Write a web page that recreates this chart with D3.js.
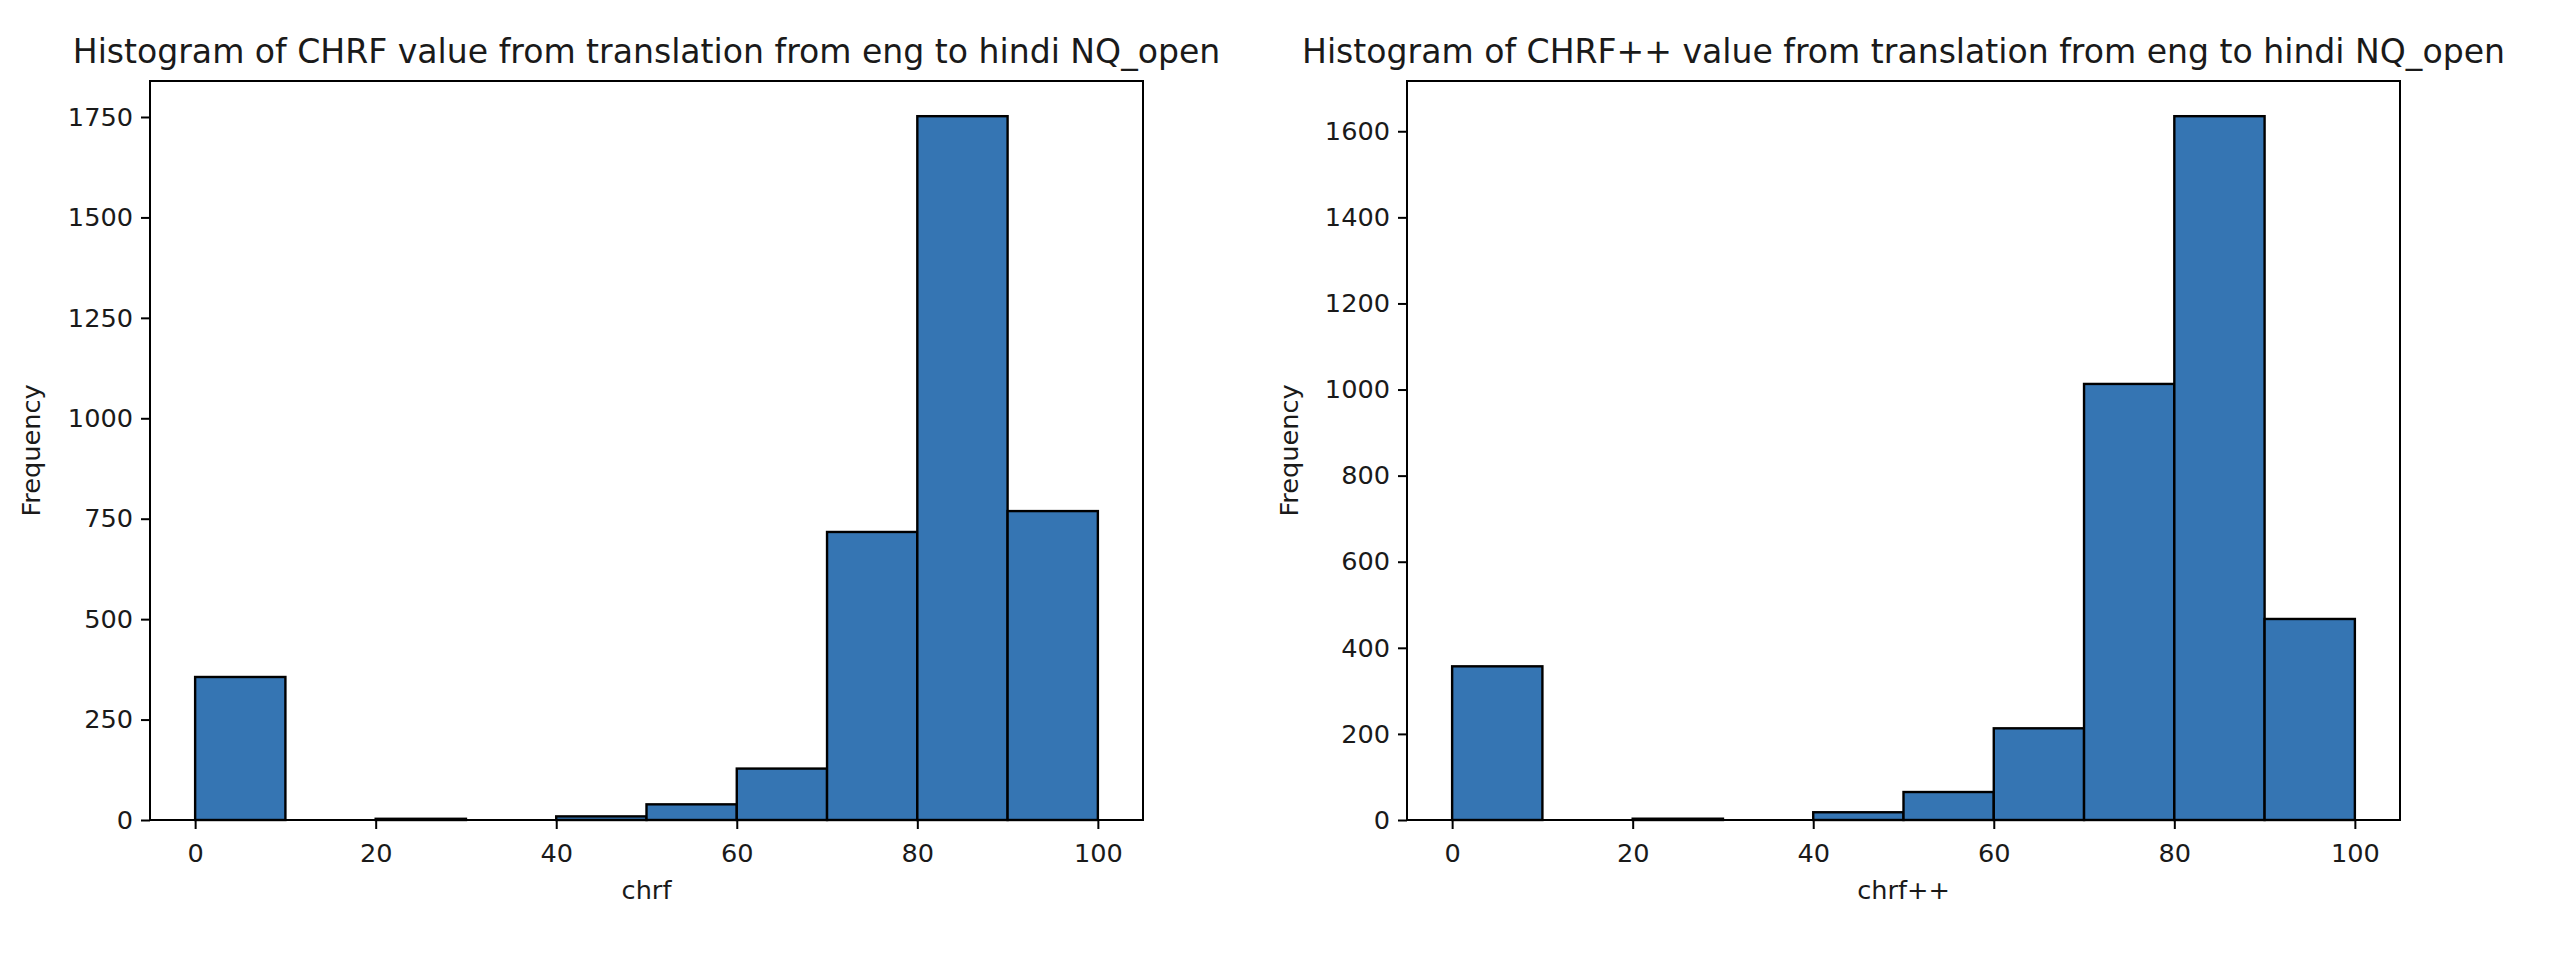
<!DOCTYPE html>
<html>
<head>
<meta charset="utf-8">
<script src="https://cdn.jsdelivr.net/npm/d3@7"></script>
<style>
  html, body { margin: 0; padding: 0; background: #fff; }
  svg { display: block; }
  text { font-family: "DejaVu Sans", sans-serif; fill: #1a1a1a; }
</style>
</head>
<body>
<svg id="chart" width="2552" height="954"></svg>
<script>
// ---- data ----
const binEdges = [0, 10, 20, 30, 40, 50, 60, 70, 80, 90, 100];
const chrfCounts = [356, 0, 3, 0, 9, 39, 128, 717, 1752, 769];
const chrfppCounts = [357, 0, 3, 0, 18, 65, 213, 1013, 1635, 467];
const xTicks = [0, 20, 40, 60, 80, 100];
const chrfYTicks = [0, 250, 500, 750, 1000, 1250, 1500, 1750];
const chrfppYTicks = [0, 200, 400, 600, 800, 1000, 1200, 1400, 1600];
const titles = [
  "Histogram of CHRF value from translation from eng to hindi NQ_open",
  "Histogram of CHRF++ value from translation from eng to hindi NQ_open"
];
const xLabels = ["chrf", "chrf++"];
const yLabel = "Frequency";

// ---- layout ----
const svg = d3.select("#chart");
const panels = [
  { left: 150, right: 1143, counts: chrfCounts, yTicks: chrfYTicks, title: titles[0], xlabel: xLabels[0], ylabelX: 40 },
  { left: 1407, right: 2400, counts: chrfppCounts, yTicks: chrfppYTicks, title: titles[1], xlabel: xLabels[1], ylabelX: 1298 }
];
const plotTop = 81, plotBottom = 820;
const barColor = "#3575b3";
const fontTick = 25.6, fontTitle = 33.1;

panels.forEach(p => {
  const g = svg.append("g");
  const x = d3.scaleLinear().domain([-5, 105]).range([p.left, p.right]);
  const ymax = d3.max(p.counts) * 1.05;
  const y = d3.scaleLinear().domain([0, ymax]).range([plotBottom, plotTop]);

  const bins = p.counts.map((c, i) => ({ x0: binEdges[i], x1: binEdges[i + 1], c }));

  g.selectAll("rect.bar").data(bins.filter(d => d.c > 0)).join("rect")
    .attr("class", "bar")
    .attr("x", d => x(d.x0))
    .attr("width", d => x(d.x1) - x(d.x0))
    .attr("y", d => y(d.c))
    .attr("height", d => y(0) - y(d.c))
    .attr("fill", barColor)
    .attr("stroke", "#000")
    .attr("stroke-width", 2.4);

  // axes
  const xAxis = d3.axisBottom(x).tickValues(xTicks).tickSize(9).tickPadding(14.5).tickFormat(d3.format("d"));
  const yAxis = d3.axisLeft(y).tickValues(p.yTicks).tickSize(9).tickPadding(8).tickFormat(d3.format("d"));

  const gx = g.append("g").attr("transform", `translate(0,${plotBottom})`).call(xAxis);
  const gy = g.append("g").attr("transform", `translate(${p.left},0)`).call(yAxis);
  [gx, gy].forEach(ax => {
    ax.select(".domain").remove();
    ax.selectAll(".tick line").attr("stroke", "#000").attr("stroke-width", 2);
    ax.selectAll(".tick text").attr("font-size", fontTick).attr("font-family", "DejaVu Sans").attr("fill", "#1a1a1a");
  });

  // frame
  g.append("rect")
    .attr("x", p.left).attr("y", plotTop)
    .attr("width", p.right - p.left).attr("height", plotBottom - plotTop)
    .attr("fill", "none").attr("stroke", "#000").attr("stroke-width", 2);

  // title
  g.append("text")
    .attr("x", (p.left + p.right) / 2).attr("y", 63)
    .attr("text-anchor", "middle")
    .attr("font-size", fontTitle)
    .text(p.title);

  // x label
  g.append("text")
    .attr("x", (p.left + p.right) / 2).attr("y", 899)
    .attr("text-anchor", "middle")
    .attr("font-size", fontTick)
    .text(p.xlabel);

  // y label
  g.append("text")
    .attr("transform", `translate(${p.ylabelX},${(plotTop + plotBottom) / 2}) rotate(-90)`)
    .attr("text-anchor", "middle")
    .attr("font-size", fontTick)
    .text(yLabel);
});
</script>
</body>
</html>
